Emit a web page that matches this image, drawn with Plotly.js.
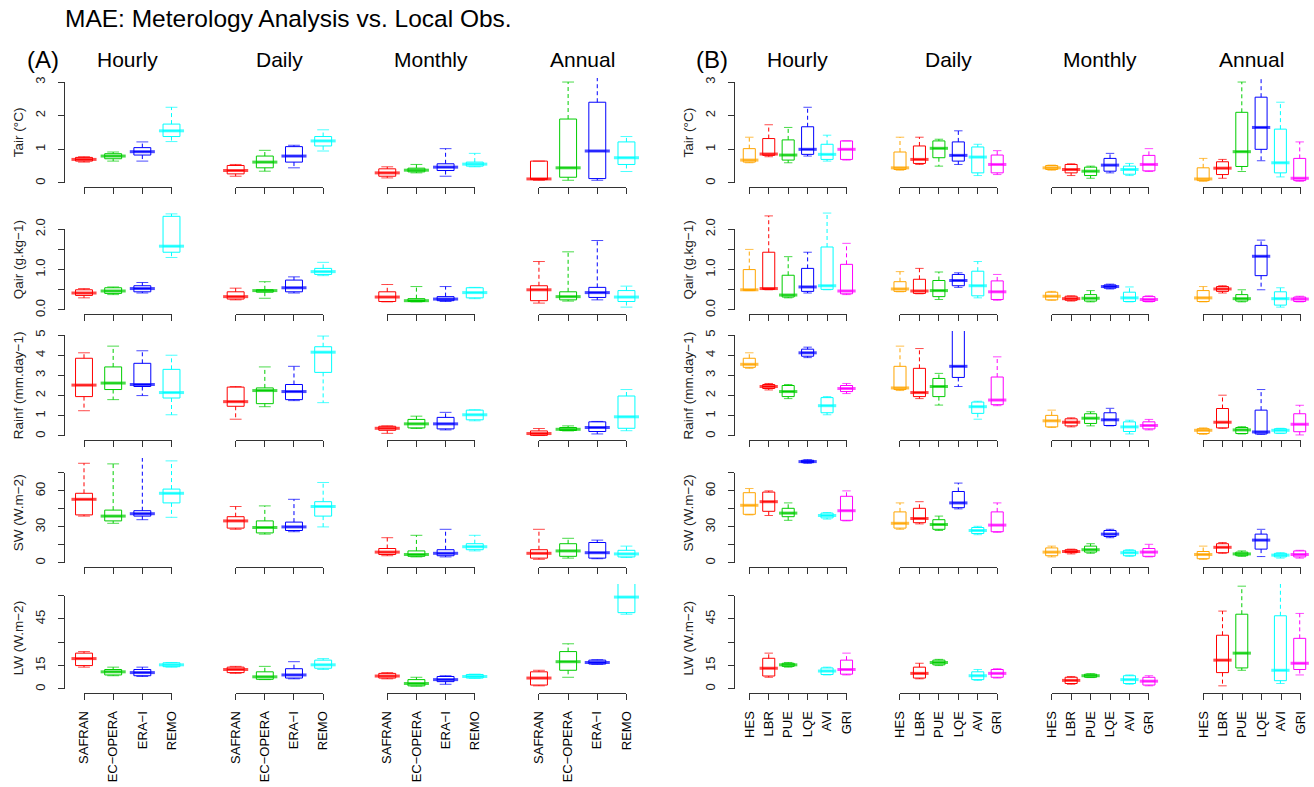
<!DOCTYPE html>
<html><head><meta charset="utf-8">
<script src="https://cdn.plot.ly/plotly-3.0.1.min.js"></script>
<style>html,body{margin:0;padding:0;background:#fff}#chart{width:1314px;height:787px}</style>
</head><body><div id="chart"></div>
<script>
// ---------------- data ----------------
const mainTitle = 'MAE: Meterology Analysis vs. Local Obs.';
const panelLabels = ['(A)', '(B)'];
const scales = ['Hourly', 'Daily', 'Monthly', 'Annual'];
const modelsA = ['SAFRAN', 'EC\u2212OPERA', 'ERA\u2212I', 'REMO'];
const sitesB = ['HES', 'LBR', 'PUE', 'LQE', 'AVI', 'GRI'];
const colorsA = ['#FF0000', '#00CD00', '#0000FF', '#00FFFF'];
const colorsB = ['#FFA500', '#FF0000', '#00CD00', '#0000FF', '#00FFFF', '#FF00FF'];
const varLabels = ['Tair (\u00B0C)', 'Qair (g.kg\u22121)', 'Rainf (mm.day\u22121)', 'SW (W.m\u22122)', 'LW (W.m\u22122)'];
const yTickVals = [[0,1,2,3],[0,0.5,1,1.5,2],[0,1,2,3,4,5],[0,15,30,45,60,75],[0,15,30,45,60]];
const yTickText = [['0','1','2','3'],['0.0','','1.0','','2.0'],['0','1','2','3','4','5'],['0','','30','','60',''],['0','15','','45','']];

// each box: [lower whisker, Q1, median, Q3, upper whisker]; per scale: Hourly, Daily, Monthly, Annual
const tairA = [
  [[0.62,0.65,0.70,0.76,0.78],[0.65,0.72,0.80,0.87,0.92],[0.65,0.83,0.93,1.05,1.22],[1.23,1.38,1.55,1.75,2.25]],
  [[0.20,0.27,0.37,0.52,0.55],[0.35,0.45,0.62,0.80,0.97],[0.45,0.62,0.80,1.08,1.12],[0.95,1.10,1.25,1.38,1.58]],
  [[0.15,0.20,0.30,0.42,0.48],[0.30,0.33,0.38,0.44,0.55],[0.20,0.37,0.47,0.57,1.02],[0.48,0.50,0.56,0.62,0.88]],
  [[0.08,0.10,0.12,0.65,0.65],[0.08,0.17,0.45,1.90,3.00],[0.08,0.13,0.95,2.40,3.30],[0.34,0.55,0.75,1.22,1.38]]
];
const tairB = [
  [[0.60,0.62,0.68,1.02,1.36],[0.78,0.82,0.86,1.32,1.73],[0.60,0.68,0.83,1.28,1.65],[0.80,0.85,1.00,1.67,2.25],[0.65,0.70,0.85,1.15,1.42],[0.68,0.70,1.00,1.25,1.25]],
  [[0.38,0.40,0.45,0.92,1.36],[0.55,0.58,0.70,1.10,1.36],[0.50,0.75,1.03,1.25,1.30],[0.55,0.65,0.82,1.22,1.55],[0.22,0.30,0.77,1.07,1.15],[0.25,0.30,0.55,0.83,0.96]],
  [[0.38,0.40,0.45,0.52,0.53],[0.22,0.30,0.40,0.55,0.57],[0.14,0.22,0.35,0.47,0.50],[0.30,0.35,0.53,0.73,0.88],[0.22,0.26,0.40,0.50,0.58],[0.34,0.36,0.55,0.82,1.02]],
  [[0.05,0.07,0.12,0.45,0.73],[0.14,0.25,0.44,0.63,0.70],[0.34,0.49,0.93,2.10,3.00],[0.66,1.00,1.65,2.55,3.20],[0.18,0.30,0.60,1.60,2.40],[0.05,0.07,0.14,0.73,1.22]]
];
const qairA = [
  [[0.30,0.36,0.42,0.50,0.53],[0.38,0.41,0.47,0.55,0.57],[0.42,0.45,0.53,0.60,0.68],[1.30,1.43,1.58,2.32,2.38]],
  [[0.25,0.27,0.33,0.45,0.54],[0.29,0.44,0.48,0.50,0.70],[0.42,0.45,0.55,0.74,0.82],[0.85,0.88,0.95,1.03,1.18]],
  [[0.20,0.21,0.32,0.45,0.63],[0.20,0.21,0.23,0.28,0.58],[0.21,0.23,0.27,0.33,0.58],[0.28,0.30,0.43,0.55,0.56]],
  [[0.17,0.23,0.50,0.60,1.20],[0.22,0.25,0.33,0.45,1.44],[0.25,0.31,0.43,0.56,1.72],[0.07,0.21,0.32,0.48,0.59]]
];
const qairB = [
  [[0.48,0.48,0.50,1.00,1.50],[0.50,0.51,0.53,1.43,2.33],[0.30,0.32,0.37,0.86,1.32],[0.42,0.46,0.57,1.03,1.43],[0.50,0.51,0.60,1.56,2.40],[0.38,0.40,0.47,1.13,1.65]],
  [[0.45,0.46,0.52,0.70,0.95],[0.40,0.41,0.47,0.76,1.03],[0.26,0.33,0.48,0.73,0.94],[0.56,0.60,0.73,0.88,0.92],[0.30,0.35,0.60,0.96,1.20],[0.24,0.26,0.45,0.72,0.88]],
  [[0.24,0.25,0.34,0.44,0.46],[0.22,0.24,0.28,0.34,0.35],[0.20,0.22,0.29,0.38,0.48],[0.52,0.54,0.58,0.62,0.64],[0.20,0.21,0.30,0.44,0.57],[0.20,0.21,0.26,0.33,0.35]],
  [[0.20,0.21,0.30,0.48,0.58],[0.42,0.46,0.52,0.58,0.60],[0.20,0.22,0.28,0.38,0.50],[0.50,0.85,1.33,1.60,1.73],[0.07,0.12,0.28,0.45,0.55],[0.20,0.21,0.27,0.32,0.34]]
];
const rainfA = [
  [[1.25,1.95,2.52,3.85,4.12],[1.80,2.30,2.62,3.42,4.45],[2.00,2.45,2.55,3.60,4.22],[1.05,1.88,2.15,3.30,4.00]],
  [[0.83,1.47,1.70,2.42,2.45],[1.45,1.60,2.25,2.38,3.42],[1.75,1.80,2.20,2.55,3.45],[1.65,3.15,4.15,4.42,4.95]],
  [[0.13,0.28,0.38,0.48,0.50],[0.37,0.40,0.60,0.82,0.98],[0.30,0.35,0.60,0.92,1.17],[0.75,0.80,1.05,1.28,1.30]],
  [[0.02,0.03,0.12,0.25,0.37],[0.25,0.27,0.33,0.42,0.50],[0.10,0.22,0.42,0.70,0.72],[0.26,0.38,0.95,1.98,2.30]]
];
const rainfB = [
  [[3.35,3.40,3.55,3.85,4.12],[2.28,2.35,2.45,2.55,2.60],[1.85,1.95,2.20,2.50,2.55],[3.88,3.95,4.12,4.30,4.40],[1.05,1.15,1.50,1.90,1.95],[2.10,2.20,2.35,2.50,2.60]],
  [[2.25,2.30,2.38,3.45,4.45],[1.85,1.95,2.15,3.35,4.33],[1.53,1.95,2.45,2.85,3.10],[2.45,2.90,3.45,5.30,5.80],[0.83,1.12,1.45,1.68,1.72],[1.50,1.55,1.78,2.92,3.92]],
  [[0.42,0.45,0.75,1.02,1.28],[0.45,0.50,0.68,0.85,0.90],[0.50,0.62,0.88,1.10,1.20],[0.50,0.52,0.80,1.15,1.37],[0.10,0.22,0.45,0.70,0.78],[0.30,0.35,0.52,0.70,0.82]],
  [[0.08,0.12,0.28,0.36,0.40],[0.38,0.40,0.68,1.36,2.02],[0.10,0.12,0.30,0.42,0.46],[0.08,0.10,0.20,1.28,2.30],[0.12,0.14,0.28,0.36,0.38],[0.05,0.21,0.58,1.10,1.52]]
];
const swA = [
  [[39,40,53,58,83],[33,35,39,44,82.5],[36,39,41,43.5,88],[38,50,58,61.5,85]],
  [[28,29,35,38.5,47],[24,25,29.5,35,47.5],[26,27,30,34,53],[30,39,47,51,67]],
  [[6,7,9,12,21],[5,5.5,7,10,23],[5,6,8,11,28],[10,11,13.5,16,23]],
  [[3,4,8,11,28],[4,5.5,10,16,20.5],[3.5,4,8.5,17,19],[4.5,5,7.5,10.5,14]]
];
const swB = [
  [[40,40.5,48,58.5,62],[39.5,43,51,59,60],[35.5,38.5,41.5,45.5,50],[83,83.5,84.4,85.5,86],[36.5,37.5,39.5,41.5,42],[35,35.5,43.5,55.5,60]],
  [[28,29,33,42.5,50],[32.5,33.5,37,45.5,51],[27,28,32,36,39],[45,46,50,59.5,66.5],[23.5,24.5,27,29.5,30.5],[25.5,26,31.5,42.5,50]],
  [[5,6,9,12.5,14],[7.5,8.5,9.5,11,11.5],[8,9,11,14,16],[21,22,24,27,28],[5.5,6,8.5,10.5,11],[5,5.5,9,12,15.5]],
  [[3,3.5,7,9.5,14],[8,8.5,13,16,17],[5.5,6,7.5,9,10],[5.3,11.5,19,24,28],[4,5,6.5,8,8.5],[4,5,7,10,10.5]]
];
const lwA = [
  [[14,15,19.5,23,24],[8.5,9,11,12.5,14],[8,8.5,10.5,12.5,14],[14,14.3,15.5,16.8,17]],
  [[10,10.5,12.5,14,14.5],[6,6.2,7.8,11,14.5],[6.5,7,9,13,17.5],[12.5,13.3,15.5,18.5,19.5]],
  [[6.5,7,8.3,10,10.5],[1.8,2,3.5,6,7.5],[3,4.7,6,8,8.5],[6.8,7,8,9.3,9.5]],
  [[2,2.5,7,11,12],[7.5,12,17.5,24,29],[15.8,16,17,18.5,18.8],[48,49,59,70,75]]
];
const lwB = [
  [null,[7.5,8.3,13.3,19.7,23],[14,14.5,15.5,16.5,17],null,[9,9.3,11.5,13.5,14],[9,9.5,12.5,18.5,23]],
  [null,[6.5,7,10,14,16.5],[15,15.5,17,18.5,19],null,[5.5,6,8.5,11,12.5],[7,7.5,10,12.5,13]],
  [null,[3,3.5,5.5,7.5,8],[7.3,7.5,8.5,9.5,9.8],null,[3,3.5,6,8.5,9],[2,2.5,5,7.5,8.5]],
  [null,[2,10.5,18.5,34.5,50],[12,13.5,23,48,66],null,[3.5,5.3,12,47,70],[9,12.5,16.5,32.5,48.5]]
];

// ---------------- layout geometry ----------------
const W = 1314, H = 787, cellW = 126, cellH = 109;
const colLeft = [64.75, 216.4, 368, 519.7, 734.9, 885.6, 1037.3, 1188.9];
const rowTop = [78, 205, 331, 458, 584];
const yRanges = [[-0.12, 3.12], [-0.1, 2.6], [-0.2, 5.2], [-3.4, 87.4], [-2.6, 67.4]];
const axisColor = '#333';
const fontFam = '"Liberation Sans", Arial, Helvetica, sans-serif';

const groups = [
  {names: modelsA, colors: colorsA, data: [tairA, qairA, rainfA, swA, lwA], boxW: 0.58},
  {names: sitesB, colors: colorsB, data: [tairB, qairB, rainfB, swB, lwB], boxW: 0.62}
];

const traces = [];
const annotations = [];
const layout = {
  width: W, height: H,
  margin: {l: 0, r: 0, t: 0, b: 0},
  paper_bgcolor: '#ffffff', plot_bgcolor: 'rgba(255,255,255,0)',
  showlegend: false,
  font: {family: fontFam, color: '#000'},
  title: {text: mainTitle, x: 65 / W, xanchor: 'left', y: 1 - 18 / H, yanchor: 'middle', font: {size: 24.5, color: '#000'}},
  annotations: annotations
};

let k = 0, yb = 40;
for (let r = 0; r < 5; r++) {
  for (let g = 0; g < 2; g++) {
    const G = groups[g];
    const n = G.names.length;
    for (let s = 0; s < 4; s++) {
      k++;
      const c = g * 4 + s;
      const x0 = 0.5 - 0.04 * n, x1 = n + 0.5 + 0.04 * n;
      const ppu = cellW / (x1 - x0);
      const L = colLeft[c], T = rowTop[r], B = T + cellH;
      layout['xaxis' + k] = {domain: [L / W, (L + cellW) / W], range: [x0, x1], visible: false, anchor: 'y' + k, fixedrange: true};
      layout['yaxis' + k] = {domain: [1 - B / H, 1 - T / H], range: yRanges[r], visible: false, anchor: 'x' + k, fixedrange: true};
      const kb = 40 + k;
      const tickPos = G.names.map((_, i) => i + 1);
      layout['xaxis' + kb] = {
        domain: [(L + (1 - x0) * ppu) / W, (L + (n - x0) * ppu) / W], range: [1, n], anchor: 'y' + k, side: 'bottom',
        showline: true, linecolor: axisColor, linewidth: 1, ticks: 'outside', ticklen: 6, tickwidth: 1, tickcolor: axisColor,
        tickmode: 'array', tickvals: tickPos, ticktext: G.names,
        showticklabels: r === 4, tickangle: -90, tickfont: {size: 13, color: '#000'}, ticklabelstandoff: 6,
        showgrid: false, zeroline: false, fixedrange: true
      };
      // carrier trace (no visible marks) so the bracket axis gets its subplot
      traces.push({type: 'scatter', mode: 'markers', xaxis: 'x' + kb, yaxis: 'y' + k, x: tickPos, y: tickPos.map(() => null),
        hoverinfo: 'skip', showlegend: false});
      if (s === 0) {
        yb++;
        const [ya, yz] = yRanges[r];
        const tv = yTickVals[r];
        const py = v => B - (v - ya) / (yz - ya) * cellH;
        layout['yaxis' + yb] = {
          domain: [1 - py(tv[0]) / H, 1 - py(tv[tv.length - 1]) / H], range: [tv[0], tv[tv.length - 1]], anchor: 'x' + k, side: 'left',
          showline: true, linecolor: axisColor, linewidth: 1, ticks: 'outside', ticklen: 6, tickwidth: 1, tickcolor: axisColor,
          tickmode: 'array', tickvals: tv, ticktext: yTickText[r], tickangle: -90, tickfont: {size: 13, color: '#222'},
          ticklabelstandoff: 8, showgrid: false, zeroline: false, fixedrange: true
        };
        traces.push({type: 'scatter', mode: 'markers', xaxis: 'x' + k, yaxis: 'y' + yb, x: tv.map(() => null), y: tv,
          hoverinfo: 'skip', showlegend: false});
        annotations.push({text: varLabels[r], x: (L - 46) / W, y: 1 - (T + cellH / 2) / H, xref: 'paper', yref: 'paper',
          showarrow: false, textangle: -90, xanchor: 'center', yanchor: 'middle', font: {size: 13.5, color: '#222'}});
      }
      if (r === 0) {
        annotations.push({text: scales[s], x: (L + cellW / 2) / W, y: 1 - 60 / H, xref: 'paper', yref: 'paper',
          showarrow: false, xanchor: 'center', yanchor: 'middle', font: {size: 21, color: '#000'}});
      }
      // boxes
      const boxes = G.data[r][s];
      const mx = [], my = [], ms = [], mw = [], mc = [];
      const capPx = 0.5 * G.boxW * ppu, medPx = G.boxW * ppu + 1;
      boxes.forEach((st, i) => {
        if (!st) return;
        const pos = i + 1, col = G.colors[i];
        traces.push({
          type: 'box', xaxis: 'x' + k, yaxis: 'y' + k, x: [pos],
          q1: [st[1]], median: [st[2]], q3: [st[3]], lowerfence: [st[1]], upperfence: [st[3]],
          width: G.boxW, whiskerwidth: 0, boxpoints: false,
          line: {color: col, width: 1}, fillcolor: 'rgba(255,255,255,0)',
          hoverinfo: 'skip', showlegend: false
        });
        traces.push({
          type: 'scatter', mode: 'lines', xaxis: 'x' + k, yaxis: 'y' + k,
          x: [pos, pos, null, pos, pos], y: [st[3], st[4], null, st[1], st[0]],
          line: {color: col, width: 1, dash: '4px,3px'}, hoverinfo: 'skip', showlegend: false
        });
        mx.push(pos, pos, pos); my.push(st[0], st[4], st[2]);
        ms.push(capPx, capPx, medPx); mw.push(1, 1, 3); mc.push(col, col, col);
      });
      traces.push({
        type: 'scatter', mode: 'markers', xaxis: 'x' + k, yaxis: 'y' + k, x: mx, y: my,
        marker: {symbol: 'line-ew', size: ms, color: mc, line: {color: mc, width: mw}},
        hoverinfo: 'skip', showlegend: false
      });
    }
  }
}
annotations.push({text: panelLabels[0], x: 43 / W, y: 1 - 60 / H, xref: 'paper', yref: 'paper', showarrow: false,
  xanchor: 'center', yanchor: 'middle', font: {size: 24, color: '#000'}});
annotations.push({text: panelLabels[1], x: 712 / W, y: 1 - 60 / H, xref: 'paper', yref: 'paper', showarrow: false,
  xanchor: 'center', yanchor: 'middle', font: {size: 24, color: '#000'}});

Plotly.newPlot('chart', traces, layout, {staticPlot: true, displayModeBar: false});
</script>
</body></html>
